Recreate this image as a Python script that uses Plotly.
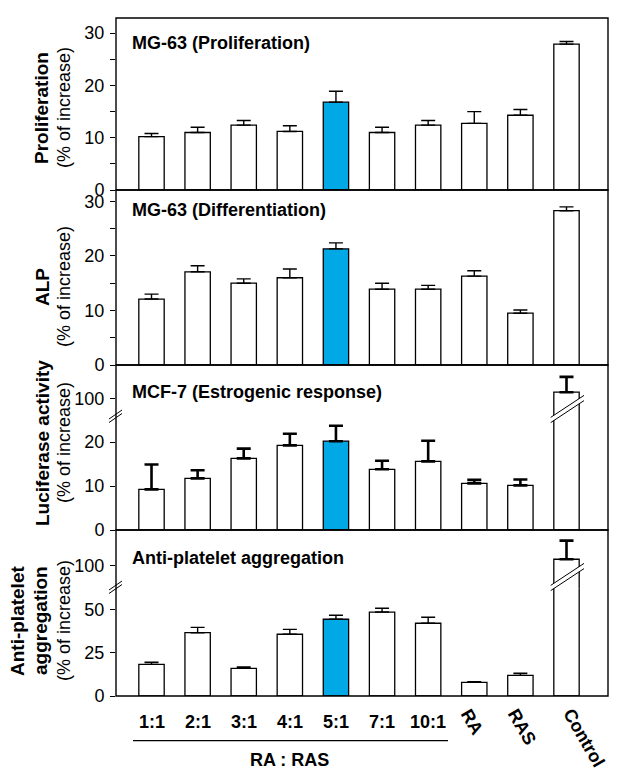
import plotly.graph_objects as go

# ---------------- data ----------------
categories = ["1:1", "2:1", "3:1", "4:1", "5:1", "7:1", "10:1", "RA", "RAS", "Control"]
highlight = "5:1"

prolif = [10.2, 11.0, 12.4, 11.2, 16.8, 11.0, 12.4, 12.75, 14.3, 27.9]
prolif_err = [0.6, 1.0, 0.9, 1.1, 2.1, 1.0, 0.9, 2.25, 1.1, 0.5]

alp = [12.1, 17.1, 15.0, 16.0, 21.3, 13.9, 13.9, 16.3, 9.5, 28.3]
alp_err = [0.9, 1.1, 0.8, 1.6, 1.1, 1.1, 0.7, 1.0, 0.6, 0.7]

lucif = [9.25, 11.75, 16.3, 19.25, 20.2, 13.8, 15.6, 10.6, 10.15, 101.4]
lucif_err = [5.65, 1.85, 2.2, 2.65, 3.5, 1.95, 4.7, 0.8, 1.35, 3.5]

platelet = [18.4, 36.8, 16.1, 35.9, 44.6, 48.8, 42.3, 7.95, 12.0, 103.9]
platelet_err = [1.2, 3.1, 0.8, 2.8, 2.3, 2.2, 3.5, 0.35, 1.2, 10.8]

panel_titles = ["MG-63 (Proliferation)", "MG-63 (Differentiation)",
                "MCF-7 (Estrogenic response)", "Anti-platelet aggregation"]
ytitles_bold = [["Proliferation"], ["ALP"], ["Luciferase activity"], ["Anti-platelet", "aggregation"]]
ytitle_sub = "(% of increase)"
group_label = "RA : RAS"

# ---------------- layout geometry ----------------
OFF = 8                      # page body margin of the browser
W, H = 628 - OFF, 780 - OFF
L, R, T, B = 116 - OFF, 20, 18 - OFF, 84
PW, PH = W - L - R, H - T - B
FONT = "Liberation Sans, Arial, sans-serif"
BLUE = "#00A8E6"


def py(p):  # window pixel y -> paper
    return (H - B - (p - OFF)) / PH


def px(p):  # window pixel x -> paper
    return (p - OFF - L) / PW


dom = {
    "y": [py(190), 1.0],
    "y2": [py(365), py(190)],
    "y3": [py(530), py(417)],     # luciferase lower
    "y4": [py(417), py(365)],     # luciferase upper
    "y5": [0.0, py(588.3)],       # platelet lower
    "y6": [py(588.3), py(530)],   # platelet upper
}

colors = [BLUE if c == highlight else "white" for c in categories]
xr = [-0.77, 9.9]

fig = go.Figure()


def add_bars(x, y, err, cols, xa, ya, thick):
    fig.add_trace(go.Bar(
        x=x, y=y, xaxis=xa, yaxis=ya, width=0.55,
        marker=dict(color=cols, line=dict(color="black", width=1.3)),
        error_y=dict(type="data", array=err, symmetric=False,
                     arrayminus=[0] * len(err), color="black",
                     thickness=thick, width=7),
        showlegend=False, hoverinfo="skip"))


add_bars(categories, prolif, prolif_err, colors, "x", "y", 1.4)
add_bars(categories, alp, alp_err, colors, "x2", "y2", 1.4)
add_bars(categories, lucif, lucif_err, colors, "x3", "y3", 2.6)
add_bars(categories[-1:], lucif[-1:], lucif_err[-1:], colors[-1:], "x3", "y4", 2.6)
add_bars(categories, platelet, platelet_err, colors, "x4", "y5", 1.4)
add_bars(categories[-1:], platelet[-1:], platelet_err[-1:], colors[-1:], "x4", "y6", 2.6)

tickfont = dict(family=FONT, size=18, color="black")


def xaxis(anchor):
    return dict(domain=[0, 1], anchor=anchor, type="category", range=xr,
                categoryorder="array", categoryarray=categories,
                showticklabels=False, ticks="", showgrid=False, zeroline=False,
                showline=False)


def yaxis(d, rng, tickvals, anchor, minor=False):
    a = dict(domain=d, range=rng, anchor=anchor, tickvals=tickvals,
             ticks="outside", ticklen=5, tickwidth=1.3, tickcolor="black",
             tickfont=tickfont, showgrid=False, zeroline=False, showline=False,
             ticklabelstandoff=2)
    if minor:
        a["minor"] = dict(ticks="outside", ticklen=5, tickwidth=1.3,
                          tickcolor="black", dtick=5, showgrid=False)
    return a


fig.update_layout(
    width=W, height=H, autosize=False,
    margin=dict(l=L, r=R, t=T, b=B),
    plot_bgcolor="white", paper_bgcolor="white",
    barmode="overlay",
    xaxis=xaxis("y"),
    xaxis2=xaxis("y2"),
    xaxis3=xaxis("y3"),
    xaxis4=xaxis("y5"),
    yaxis=yaxis(dom["y"], [0, 32.9], [0, 10, 20, 30], "x", minor=True),
    yaxis2=yaxis(dom["y2"], [0, 32.1], [0, 10, 20, 30], "x2", minor=True),
    yaxis3=yaxis(dom["y3"], [0, 25.7], [0, 10, 20], "x3"),
    yaxis4=yaxis(dom["y4"], [95.75, 107.6], [100], "x3"),
    yaxis5=yaxis(dom["y5"], [0, 62.6], [0, 25, 50], "x4"),
    yaxis6=yaxis(dom["y6"], [87.0, 120.9], [100], "x4"),
)

# panel frames
shapes = []
frames = [(18, 190), (190, 365), (365, 530), (530, 696)]
for top, bot in frames:
    shapes.append(dict(type="rect", xref="paper", yref="paper",
                       x0=0, x1=1, y0=py(bot), y1=py(top),
                       line=dict(color="black", width=1.4), layer="above"))


def seg(x0, y0, x1, y1, w=1.0):
    shapes.append(dict(type="line", xref="paper", yref="paper",
                       x0=px(x0), y0=py(y0), x1=px(x1), y1=py(y1),
                       line=dict(color="black", width=w), layer="above"))


def bar_break(cy):
    # white gap across the control bar with two slanted lines
    x0, x1 = 550.7, 584.0
    d = 11.0  # half vertical drop
    g = 2.6   # half gap
    path = (f"M {px(x0)},{py(cy + d - g)} L {px(x1)},{py(cy - d - g)} "
            f"L {px(x1)},{py(cy - d + g)} L {px(x0)},{py(cy + d + g)} Z")
    shapes.append(dict(type="path", xref="paper", yref="paper", path=path,
                       fillcolor="white", line=dict(width=0), layer="above"))
    seg(x0, cy + d - g, x1, cy - d - g)
    seg(x0, cy + d + g, x1, cy - d + g)


def axis_break(cy):
    seg(109, cy + 3, 122, cy - 6)
    seg(109, cy + 6.5, 122, cy - 2.5)


bar_break(409)
bar_break(577)
axis_break(416)
axis_break(587)

# group line under ratios
seg(133, 740.7, 448, 740.7, 1.2)
fig.update_layout(shapes=shapes)

ann = []
# panel titles
title_y = [43, 210, 392, 558]
for t, yy in zip(panel_titles, title_y):
    ann.append(dict(text=f"<b>{t}</b>", xref="paper", yref="paper",
                    x=px(130), y=py(yy), xanchor="left", yanchor="middle",
                    showarrow=False, font=dict(family=FONT, size=18, color="black")))

# y-axis titles
ycent = [108, 287, 443, 621]
for lines, yy in zip(ytitles_bold, ycent):
    xs = [42] if len(lines) == 1 else [17, 40]
    for ln, xx in zip(lines, xs):
        ann.append(dict(text=f"<b>{ln}</b>", xref="paper", yref="paper",
                        x=px(xx), y=py(yy), xanchor="center", yanchor="middle",
                        textangle=-90, showarrow=False,
                        font=dict(family=FONT, size=19, color="black")))
    ann.append(dict(text=ytitle_sub, xref="paper", yref="paper",
                    x=px(64), y=py(yy), xanchor="center", yanchor="middle",
                    textangle=-90, showarrow=False,
                    font=dict(family=FONT, size=18, color="black")))

# x category labels (bottom panel)
for c in categories:
    if ":" in c:
        ann.append(dict(text=f"<b>{c}</b>", xref="x4", yref="paper",
                        x=c, y=py(721.5), xanchor="center", yanchor="middle",
                        showarrow=False, font=dict(family=FONT, size=18, color="black")))
rot = {"RA": (472, 722), "RAS": (522, 727), "Control": (584, 738)}
for c in categories:
    if c in rot:
        ann.append(dict(text=f"<b>{c}</b>", xref="paper", yref="paper",
                        x=px(rot[c][0]), y=py(rot[c][1]), xanchor="center",
                        yanchor="middle", textangle=60, showarrow=False,
                        font=dict(family=FONT, size=18, color="black")))

ann.append(dict(text=f"<b>{group_label}</b>", xref="paper", yref="paper",
                x=px(289), y=py(760), xanchor="center", yanchor="middle",
                showarrow=False, font=dict(family=FONT, size=18, color="black")))

fig.update_layout(annotations=ann)
fig.write_html("out.html")
